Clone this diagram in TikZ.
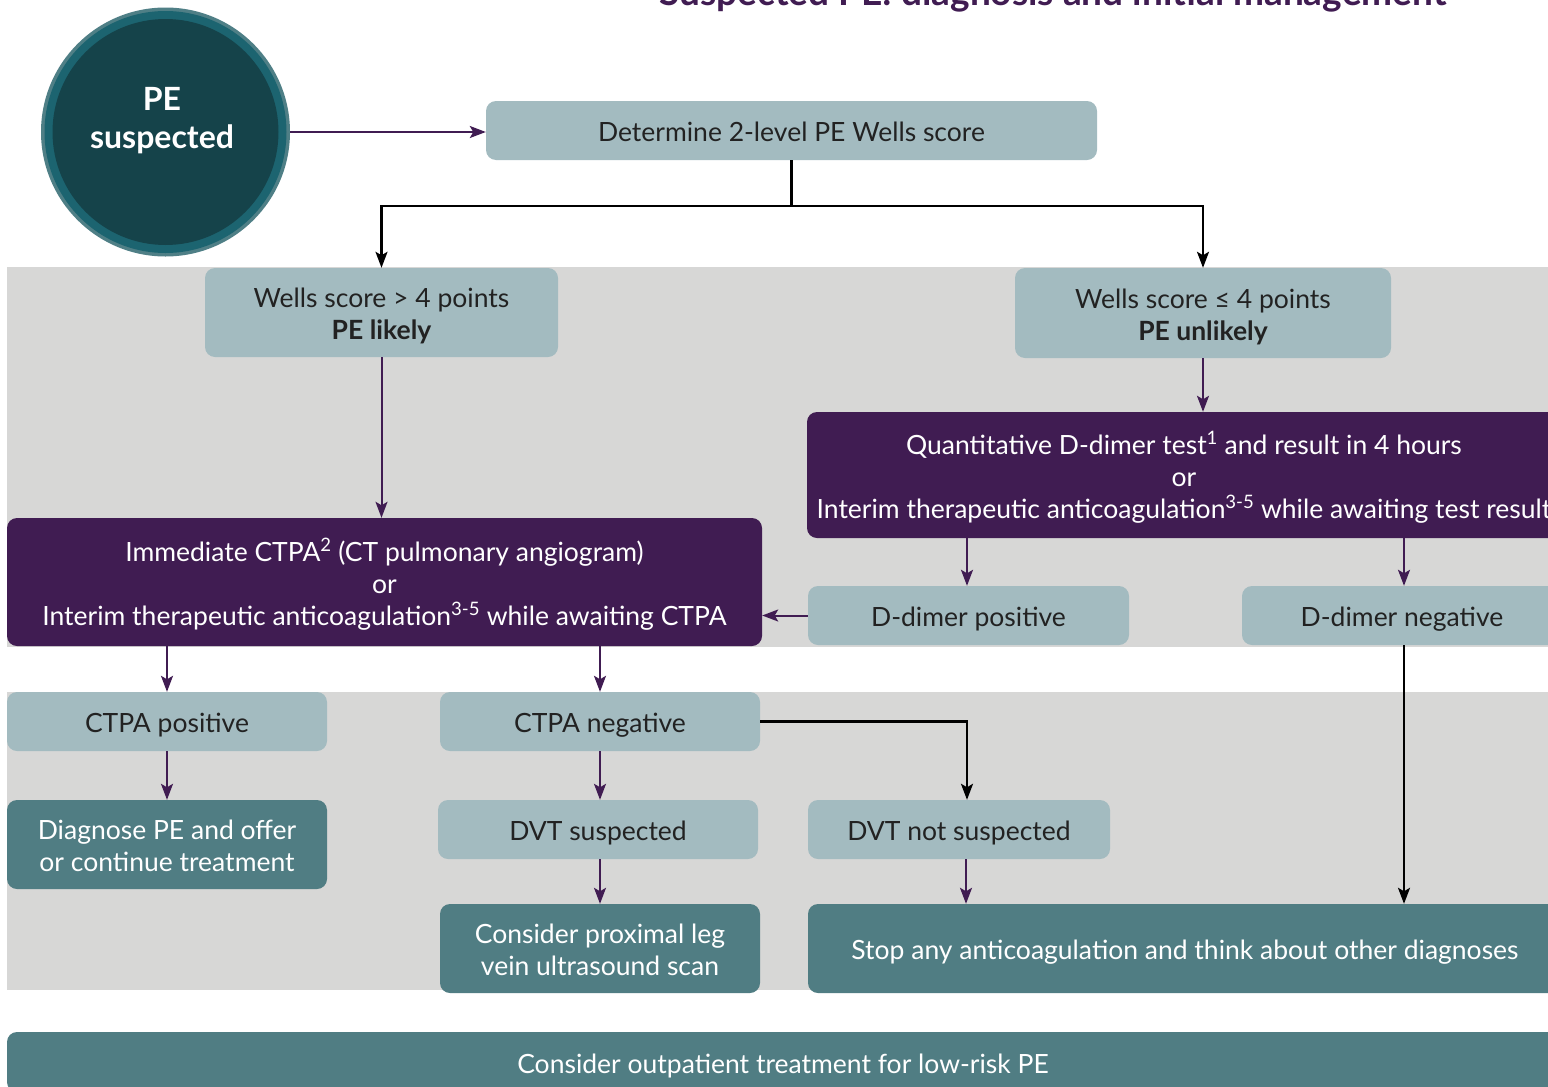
\documentclass[tikz,border=0pt]{standalone}
\usepackage{fontspec}
\setmainfont{Lato}
\usetikzlibrary{arrows.meta}
\definecolor{lbox}{HTML}{A3BBC0}
\definecolor{tbox}{HTML}{507D83}
\definecolor{pbox}{HTML}{401C52}
\definecolor{band}{HTML}{D7D7D6}
\definecolor{dtext}{HTML}{222222}
\definecolor{ring1}{HTML}{4F7F86}
\definecolor{ring2}{HTML}{1C6470}
\definecolor{ring3}{HTML}{15434A}
\newcommand\topstrut{\rule{0pt}{28pt}}
\newcommand\botstrut{\rule[-6pt]{0pt}{6pt}}
\tikzset{
  base/.style={rectangle, rounded corners=10pt, inner sep=0pt, align=center, font=\fontsize{26.5}{32}\selectfont},
  lightbox/.style={base, fill=lbox, text=dtext},
  tealbox/.style={base, fill=tbox, text=white},
  purplebox/.style={base, fill=pbox, text=white},
  parrow/.style={draw=pbox, line width=2pt, -{Stealth[length=16pt,width=12pt,inset=3.5pt]}},
  barrow/.style={draw=black, line width=2.2pt, -{Stealth[length=16pt,width=12pt,inset=3.5pt]}},
}
\begin{document}
\begin{tikzpicture}[x=1pt,y=-1pt]
\useasboundingbox (0,0) rectangle (1548,1087);
\clip (0,0) rectangle (1548,1087);
\fill[white] (0,0) rectangle (1548,1087);
% title (cut off at top, as in the reference)
\node[anchor=base, text=pbox, font=\bfseries\fontsize{37}{37}\selectfont] (title) at (1053,5) {Suspected PE: diagnosis and initial management};
% bands
\fill[band] (7,267) rectangle (1560,647);
\fill[band] (7,692) rectangle (1560,990);
% circle
\node[circle, fill=ring1, minimum size=249pt, inner sep=0pt] (circ) at (165.5,132) {};
\fill[ring2] (circ.center) circle (121pt);
\fill[ring3] (circ.center) circle (113pt);
\node[text=white, align=center, font=\bfseries\fontsize{32}{38}\selectfont] (circtext) at (162,121) {PE\\suspected};
% boxes
\node[lightbox, minimum width=611pt, minimum height=59pt] (det) at (791.5,130.5) {\topstrut Determine 2-level PE Wells score\botstrut};
\node[lightbox, minimum width=353pt, minimum height=89pt] (wl) at (381.5,312.5) {\topstrut Wells score > 4 points\\\textbf{PE likely}\botstrut};
\node[lightbox, minimum width=376pt, minimum height=90pt] (wu) at (1203,313) {\topstrut Wells score ≤ 4 points\\\textbf{PE unlikely}\botstrut};
\node[purplebox, minimum width=754pt, minimum height=126pt] (dd) at (1184,475) {\topstrut Quantitative D-dimer test\textsuperscript{1} and result in 4 hours\\or\\Interim therapeutic anticoagulation\textsuperscript{3-5} while awaiting test result\botstrut};
\node[purplebox, minimum width=755pt, minimum height=128pt] (ct) at (384.5,582) {\topstrut Immediate CTPA\textsuperscript{2} (CT pulmonary angiogram)\\or\\Interim therapeutic anticoagulation\textsuperscript{3-5} while awaiting CTPA\botstrut};
\node[lightbox, minimum width=321pt, minimum height=59pt] (dpos) at (968.5,615.5) {\topstrut D-dimer positive\botstrut};
\node[lightbox, minimum width=320pt, minimum height=59pt] (dneg) at (1402,615.5) {\topstrut D-dimer negative\botstrut};
\node[lightbox, minimum width=320pt, minimum height=59pt] (cpos) at (167,721.5) {\topstrut CTPA positive\botstrut};
\node[lightbox, minimum width=320pt, minimum height=59pt] (cneg) at (600,721.5) {\topstrut CTPA negative\botstrut};
\node[tealbox, minimum width=320pt, minimum height=89pt] (diag) at (167,844.5) {\topstrut Diagnose PE and offer\\or continue treatment\botstrut};
\node[lightbox, minimum width=320pt, minimum height=59pt] (dvts) at (598,829.5) {\topstrut DVT suspected\botstrut};
\node[lightbox, minimum width=302pt, minimum height=59pt] (dvtn) at (959,829.5) {\topstrut DVT not suspected\botstrut};
\node[tealbox, minimum width=320pt, minimum height=89pt] (prox) at (600,948.5) {\topstrut Consider proximal leg\\vein ultrasound scan\botstrut};
\node[tealbox, minimum width=754pt, minimum height=89pt] (stop) at (1185,948.5) {\topstrut Stop any anticoagulation and think about other diagnoses\botstrut};
\node[tealbox, minimum width=1552pt, minimum height=60pt] (outp) at (783,1062) {\topstrut Consider outpatient treatment for low-risk PE\botstrut};
% connectors
\draw[parrow] (circ.east) -- (circ.east -| det.west);
\draw[barrow] (det.south) -- ++(0,46) -| (wl.north);
\draw[barrow] (det.south) -- ++(0,46) -| (wu.north);
\draw[parrow] (wl.south) -- (wl.south |- ct.north);
\draw[parrow] (wu.south) -- (wu.south |- dd.north);
\draw[parrow] ([xshift=-1.5pt]dd.south -| dpos.north) -- ([xshift=-1.5pt]dpos.north);
\draw[parrow] ([xshift=2pt]dd.south -| dneg.north) -- ([xshift=2pt]dneg.north);
\draw[parrow] (dpos.west) -- (dpos.west -| ct.east);
\draw[parrow] (ct.south -| cpos.north) -- (cpos.north);
\draw[parrow] (ct.south -| cneg.north) -- (cneg.north);
\draw[parrow] (cpos.south) -- (cpos.south |- diag.north);
\draw[parrow] (cneg.south) -- (cneg.south |- dvts.north);
\draw[parrow] (dvts.south -| prox.north) -- (prox.north);
\draw[barrow] (cneg.east) -| ([xshift=8pt]dvtn.north);
\draw[parrow] ([xshift=7pt]dvtn.south) -- ([xshift=7pt]dvtn.south |- stop.north);
\draw[barrow] ([xshift=2pt]dneg.south) -- ([xshift=2pt]dneg.south |- stop.north);
\end{tikzpicture}
\end{document}
